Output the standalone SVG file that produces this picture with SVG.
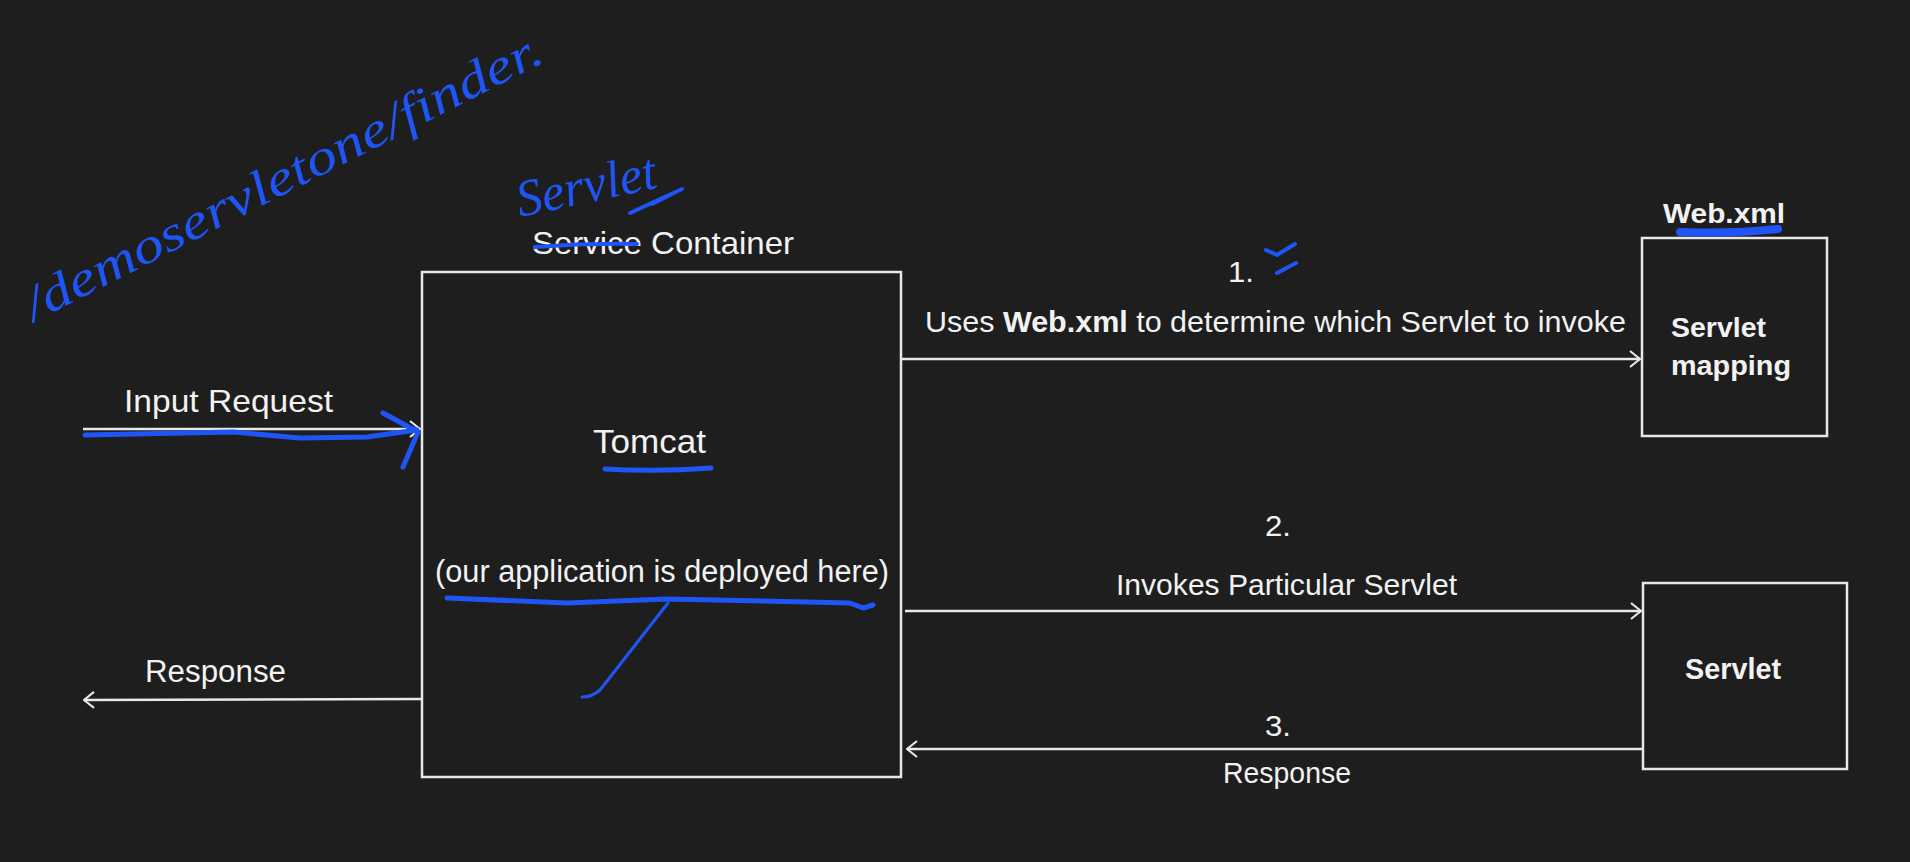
<svg xmlns="http://www.w3.org/2000/svg" width="1910" height="862" viewBox="0 0 1910 862">
<style>
.bg{fill:#1e1e1e}
.box{fill:none;stroke:#e8e8e8;stroke-width:2.5}
.t{font-family:"Liberation Sans",Arial,sans-serif;fill:#f2f2f2}
.b{font-weight:bold}
.ln{stroke:#e8e8e8;stroke-width:2.5;fill:none}
.ink{stroke:#1f55f6;fill:none;stroke-linecap:round;stroke-linejoin:round}
.hw{font-family:"Liberation Serif",serif;font-style:italic;fill:#1f55f6}
</style>
<defs>
<marker id="arr" viewBox="0 0 12 18" refX="11" refY="9" markerWidth="12" markerHeight="18" markerUnits="userSpaceOnUse" orient="auto">
<path d="M1,1 L11,9 L1,17" fill="none" stroke="#e8e8e8" stroke-width="2.2"/>
</marker>
</defs>
<rect class="bg" x="0" y="0" width="1910" height="862"/>

<g id="container">
<rect class="box" x="422" y="272" width="479" height="505"/>
<text class="t" x="532" y="254" font-size="32" textLength="262" lengthAdjust="spacingAndGlyphs">Service Container</text>
<text class="t" x="593" y="453" font-size="33" textLength="113" lengthAdjust="spacingAndGlyphs">Tomcat</text>
<text class="t" x="435" y="582" font-size="31" textLength="454" lengthAdjust="spacingAndGlyphs">(our application is deployed here)</text>
</g>

<g id="servlet-mapping">
<rect class="box" x="1642" y="238" width="185" height="198"/>
<text class="t b" x="1663" y="223" font-size="28" textLength="122" lengthAdjust="spacingAndGlyphs">Web.xml</text>
<text class="t b" x="1671" y="337" font-size="28" textLength="95" lengthAdjust="spacingAndGlyphs">Servlet</text>
<text class="t b" x="1671" y="375" font-size="28" textLength="120" lengthAdjust="spacingAndGlyphs">mapping</text>
</g>

<g id="servlet">
<rect class="box" x="1643" y="583" width="204" height="186"/>
<text class="t b" x="1685" y="679" font-size="30" textLength="96" lengthAdjust="spacingAndGlyphs">Servlet</text>
</g>

<g id="connectors">
<line class="ln" x1="83" y1="429" x2="420" y2="429" marker-end="url(#arr)"/>
<text class="t" x="124" y="412" font-size="32" textLength="209" lengthAdjust="spacingAndGlyphs">Input Request</text>
<line class="ln" x1="422" y1="699" x2="84" y2="700" marker-end="url(#arr)"/>
<text class="t" x="145" y="682" font-size="31" textLength="141" lengthAdjust="spacingAndGlyphs">Response</text>

<line class="ln" x1="902" y1="359" x2="1640" y2="359" marker-end="url(#arr)"/>
<text class="t" x="1228" y="282" font-size="30" textLength="26" lengthAdjust="spacingAndGlyphs">1.</text>
<text class="t" x="925" y="332" font-size="29" textLength="701" lengthAdjust="spacingAndGlyphs">Uses <tspan class="b">Web.xml</tspan> to determine which Servlet to invoke</text>

<line class="ln" x1="905" y1="611" x2="1641" y2="611" marker-end="url(#arr)"/>
<text class="t" x="1265" y="536" font-size="30" textLength="26" lengthAdjust="spacingAndGlyphs">2.</text>
<text class="t" x="1116" y="595" font-size="30" textLength="341" lengthAdjust="spacingAndGlyphs">Invokes Particular Servlet</text>

<line class="ln" x1="1642" y1="749" x2="907" y2="749" marker-end="url(#arr)"/>
<text class="t" x="1265" y="736" font-size="30" textLength="26" lengthAdjust="spacingAndGlyphs">3.</text>
<text class="t" x="1223" y="783" font-size="30" textLength="128" lengthAdjust="spacingAndGlyphs">Response</text>
</g>

<g id="annotations">
<text class="hw" font-size="50" transform="translate(34,322) rotate(-27)" textLength="575" lengthAdjust="spacingAndGlyphs">/demoservletone/finder.</text>
<text class="hw" font-size="52" transform="translate(520,217) rotate(-12)" textLength="142" lengthAdjust="spacingAndGlyphs">Servlet</text>
<path class="ink" stroke-width="4" d="M630,213 L682,189 M652,204 L674,193"/>
<path class="ink" stroke-width="4" d="M535,247 Q586,243 637,244"/>
<path class="ink" stroke-width="5" d="M605,469 Q658,472 711,468"/>
<path class="ink" stroke-width="5" d="M85,435 L233,432 L300,438 L367,437 L417,430 M383,413 L418,432 L403,467"/>
<path class="ink" stroke-width="5" d="M447,598 L567,603 L667,599 L850,603 L863,608 L873,605"/>
<path class="ink" stroke-width="3" d="M668,603 L600,690 Q592,697 582,697"/>
<path class="ink" stroke-width="8" d="M1680,232 Q1730,234 1778,229"/>
<path class="ink" stroke-width="4" d="M1266,250 L1277,255 L1295,244 M1277,273 L1296,263"/>
</g>
</svg>
